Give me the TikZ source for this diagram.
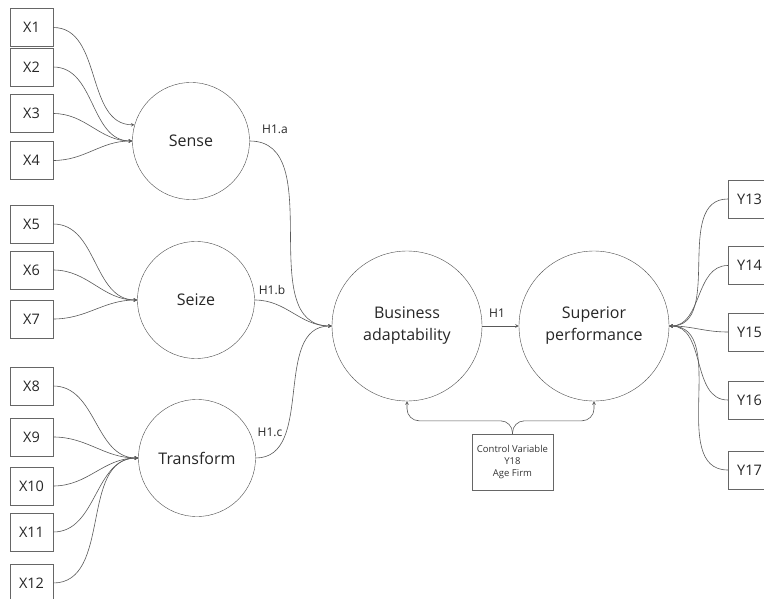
\documentclass[tikz,border=0pt]{standalone}
\usepackage{fontspec}
\setmainfont{Open Sans}
\usetikzlibrary{arrows}

\begin{document}
\begin{tikzpicture}[x=1pt,y=-1pt,
  ind/.style={draw=black!60,minimum width=43pt,minimum height=38pt,inner sep=0pt,text=black!85,font=\fontsize{14.5}{17}\selectfont},
  lat/.style={draw=black!70,circle,minimum size=117pt,inner sep=0pt,text=black!85,align=center,font=\fontsize{16}{22}\selectfont},
  big/.style={lat,minimum size=150pt},
  hyp/.style={text=black!85,font=\fontsize{12}{14}\selectfont},
  link/.style={draw=black!65,line width=0.6pt,-stealth}]
  \useasboundingbox (0,0) rectangle (764,599);

  \node[ind] (x1) at (31.5,27.5) {X1};
  \node[ind] (x2) at (31.5,67) {X2};
  \node[ind] (x3) at (31.5,113.5) {X3};
  \node[ind] (x4) at (31.5,160.5) {X4};
  \node[ind] (x5) at (31.5,224) {X5};
  \node[ind] (x6) at (31.5,270) {X6};
  \node[ind] (x7) at (31.5,319) {X7};
  \node[ind] (x8) at (31.5,386) {X8};
  \node[ind] (x9) at (31.5,437) {X9};
  \node[ind] (x10) at (31.5,486) {X10};
  \node[ind] (x11) at (31.5,532) {X11};
  \node[ind] (x12) at (31.5,583) {X12};

  \node[ind] (y13) at (749.5,199) {Y13};
  \node[ind] (y14) at (749.5,265.5) {Y14};
  \node[ind] (y15) at (749.5,332) {Y15};
  \node[ind] (y16) at (749.5,400) {Y16};
  \node[ind] (y17) at (749.5,470) {Y17};

  \node[lat] (sense) at (191,141) {Sense};
  \node[lat] (seize) at (196,300) {Seize};
  \node[lat] (transform) at (197,458) {Transform};
  \node[big] (ba) at (407,326) {Business\\adaptability};
  \node[big] (sp) at (594,326) {Superior\\performance};

  \node[draw=black!60,minimum width=81pt,minimum height=56pt,inner sep=0pt,align=center,text=black!80,font=\fontsize{9.5}{12}\selectfont] (ctl) at (512.5,462) {Control Variable\\Y18\\Age Firm};

  \draw[link] (x1.east) to[out=0,in=180] (sense.164);
  \draw[link] (x2.east) to[out=0,in=180] (sense.west);
  \draw[link] (x3.east) to[out=0,in=180] (sense.west);
  \draw[link] (x4.east) to[out=0,in=180] (sense.west);
  \draw[link] (x5.east) to[out=0,in=180] (seize.west);
  \draw[link] (x6.east) to[out=0,in=180] (seize.west);
  \draw[link] (x7.east) to[out=0,in=180] (seize.west);
  \draw[link] (x8.east) to[out=0,in=180] (transform.west);
  \draw[link] (x9.east) to[out=0,in=180] (transform.west);
  \draw[link] (x10.east) to[out=0,in=180] (transform.west);
  \draw[link] (x11.east) to[out=0,in=180] (transform.west);
  \draw[link] (x12.east) to[out=0,in=180] (transform.west);

  \draw[link] (sense.east) to[out=0,in=180] (ba.west);
  \draw[link] (seize.east) to[out=0,in=180] (ba.west);
  \draw[link] (transform.east) to[out=0,in=180] (ba.west);
  \draw[link] (ba.east) -- (sp.west);

  \draw[link] (y13.west) to[out=180,in=0] (sp.east);
  \draw[link] (y14.west) to[out=180,in=0] (sp.east);
  \draw[link] (y15.west) to[out=180,in=0] (sp.east);
  \draw[link] (y16.west) to[out=180,in=0] (sp.east);
  \draw[link] (y17.west) to[out=180,in=0] (sp.east);

  \draw[link,rounded corners=12pt] (ctl.north) -- ++(0,-13) -| (ba.south);
  \draw[link,rounded corners=12pt] (ctl.north) -- ++(0,-13) -| (sp.south);

  \node[hyp] (ha) at (275,129) {H1.a};
  \node[hyp] (hb) at (272,290) {H1.b};
  \node[hyp] (hc) at (270,432) {H1.c};
  \node[hyp] (h1) at (497,313) {H1};
\end{tikzpicture}
\end{document}
